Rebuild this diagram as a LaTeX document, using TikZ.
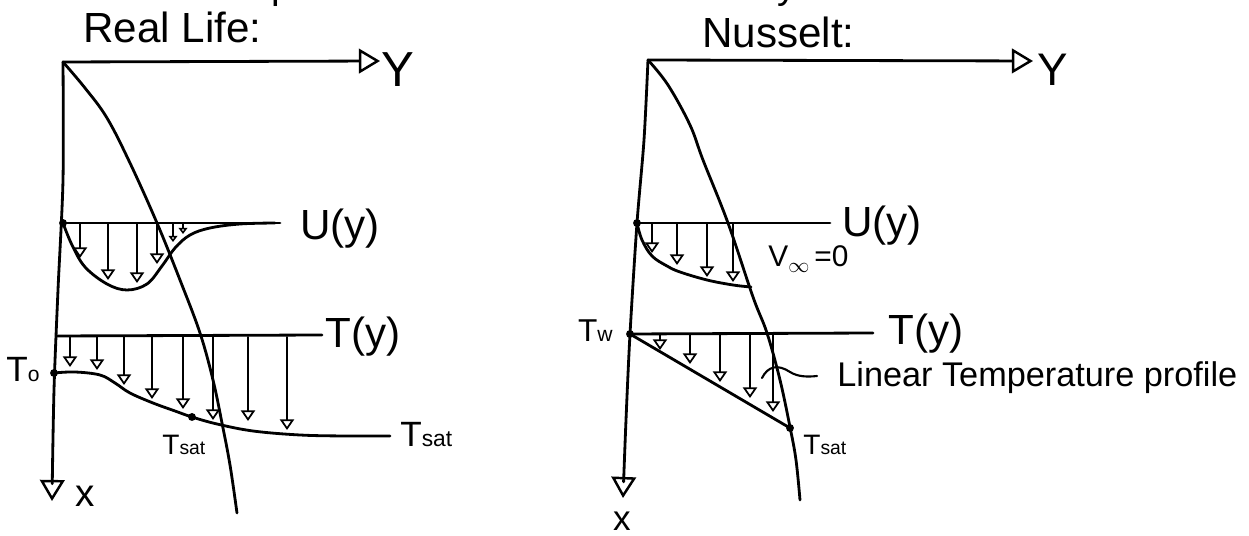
\documentclass[tikz,border=0pt]{standalone}
\usepackage{fontspec}
\setmainfont{Liberation Sans}
\usetikzlibrary{arrows.meta}
\begin{document}
\begin{tikzpicture}[x=0.02cm,y=-0.02cm,
  line cap=round, line join=round,
  axis/.style={line width=1.6pt},
  curve/.style={line width=1.6pt},
  bigtip/.style={-{Triangle[open,length=12pt,width=14pt,line width=1.4pt]}},
  vec/.style={line width=1pt,-{Triangle[open,length=6pt,width=8pt,line width=1pt]}},
  smallvec/.style={line width=0.9pt,-{Triangle[open,length=3.5pt,width=5pt,line width=0.9pt]}},
  dot/.style={circle,fill,inner sep=0pt,minimum size=4.5pt},
  lbl/.style={inner sep=0pt,anchor=base west},
  big/.style={font=\fontsize{24}{28}\selectfont},
  mid/.style={font=\fontsize{19.5}{22}\selectfont},
  tlbl/.style={inner sep=0pt,font=\fontsize{16}{18}\selectfont}]
\useasboundingbox (0,0) rectangle (1249,536);

% cut-off heading (only its lowest part lies inside the picture)
\node[lbl,font=\fontsize{22}{26}\selectfont] (head1) at (190,-1.5) {Comparison to Nusselt};
\node[lbl,font=\fontsize{22}{26}\selectfont] (head2) at (700,-1.5) {Analysis};

% ================= Real life =================
\node[lbl,big] (title1) at (83,43) {Real Life:};
\coordinate (O1) at (63,62);
\coordinate (Y1) at (380,61);
\coordinate (X1) at (52,501);
\draw[axis,bigtip] (O1) -- (Y1);
\node[inner sep=0pt,font=\fontsize{28}{30}\selectfont] (Y1l) at (398,70) {Y};
\draw[axis,bigtip] plot[smooth] coordinates {(O1) (63,180) (58,290) (54,390) (X1)};
\node[inner sep=0pt,font=\fontsize{22}{24}\selectfont] (X1l) at (85,496) {x};
% interface
\draw[curve] plot[smooth,tension=0.6] coordinates {(O1) (85,88) (107,118) (130,163) (157,223) (180,280) (200,333) (213,380) (222,423) (230,465) (237,513)};
% velocity
\coordinate (U1s) at (63,223);
\coordinate (U1e) at (280,223);
\draw[axis] (U1s) -- (U1e);
\node[dot] (U1d) at (U1s) {};
\node[lbl,big] (U1l) at (300,240) {U(y)};
\draw[curve] plot[smooth,tension=0.6] coordinates {(U1s) (72,245) (85,267) (107,284) (127,290) (147,284) (162,266) (175,248) (190,235) (210,228) (240,224) (275,223)};
\foreach \x/\t in {80/258,108/280,137/283,157/264}
  \draw[vec] (\x,224) -- (\x,\t);
\draw[smallvec] (173,224) -- (173,242);
\draw[smallvec] (183,224) -- (183,234);
% temperature
\coordinate (T1s) at (57,336);
\coordinate (T1e) at (322,335);
\draw[axis] (T1s) -- (T1e);
\node[lbl,big] (T1l) at (325,348) {T(y)};
\coordinate (T0) at (54,373);
\node[dot] (T0d) at (T0) {};
\node[inner sep=0pt,anchor=base east,font=\fontsize{20}{22}\selectfont] (T0l) at (40,382) {T{\fontsize{12}{12}\selectfont o}};
\draw[curve] plot[smooth,tension=0.6] coordinates {(T0) (75,372) (100,375) (115,383) (130,393) (153,403) (175,411) (192,417) (217,424) (253,431) (300,435) (345,436) (390,436)};
\node[dot] (Ts1d) at (192,417) {};
\node[tlbl,anchor=base west] (Ts1l) at (162,455) {T{\fontsize{11}{11}\selectfont sat}};
\node[lbl,font=\fontsize{20}{22}\selectfont] (Ts1r) at (400,447) {T{\fontsize{13}{13}\selectfont sat}};
\foreach \x/\t in {70/367,97/370,124/385,152/399,183/409,213/420,248/421,287/430}
  \draw[vec] (\x,337) -- (\x,\t);

% ================= Nusselt =================
\node[lbl,big] (title2) at (702,48) {Nusselt:};
\coordinate (O2) at (648,60);
\coordinate (Y2) at (1033,61);
\coordinate (X2) at (623,498);
\draw[axis,bigtip] (O2) -- (Y2);
\node[inner sep=0pt,font=\fontsize{26}{28}\selectfont] (Y2l) at (1053,70) {Y};
\draw[axis,bigtip] plot[smooth] coordinates {(O2) (644,140) (637,223) (630,334) (626,420) (X2)};
\node[inner sep=0pt,font=\fontsize{20}{22}\selectfont] (X2l) at (622,521) {x};
% interface
\draw[curve] plot[smooth,tension=0.6] coordinates {(O2) (668,85) (690,125) (703,160) (728,223) (753,297) (767,333) (780,380) (790,427) (796,460) (800,500)};
% velocity
\coordinate (U2s) at (637,223);
\coordinate (U2e) at (830,223);
\draw[axis] (U2s) -- (U2e);
\node[dot] (U2d) at (U2s) {};
\node[lbl,big] (U2l) at (842,237) {U(y)};
\node[lbl,font=\fontsize{17}{19}\selectfont] (Vinf) at (768,267) {V\raisebox{-3pt}{\fontsize{12}{12}\selectfont$\infty$}\,=0};
\draw[curve] plot[smooth,tension=0.6] coordinates {(U2s) (642,240) (652,256) (667,266) (680,272) (707,280) (733,285) (751,287)};
\foreach \x/\t in {652/253,677/265,707/277,733/282}
  \draw[vec] (\x,224) -- (\x,\t);
% temperature
\coordinate (Tw) at (630,334);
\coordinate (T2e) at (873,333);
\draw[axis] (Tw) -- (T2e);
\node[dot] (Twd) at (Tw) {};
\node[lbl,big] (T2l) at (888,345) {T(y)};
\node[inner sep=0pt,anchor=base east,font=\fontsize{18}{20}\selectfont] (Twl) at (613,342) {T{\fontsize{12}{12}\selectfont w}};
\coordinate (Ts2) at (790,428);
\draw[curve] (Tw) -- (Ts2);
\node[dot] (Ts2d) at (Ts2) {};
\node[tlbl,anchor=base west] (Ts2l) at (803,455) {T{\fontsize{11}{11}\selectfont sat}};
\foreach \x/\t in {660/350,690/364,720/382,750/398,773/412}
  \draw[vec] (\x,335) -- (\x,\t);
% annotation
\node[lbl,mid] (lin) at (837,387) {Linear Temperature profile};
\coordinate (ld) at (762,378);
\coordinate (le) at (817,376);
\draw[line width=1.2pt] (ld) .. controls (768,366) and (778,364) .. (790,372) .. controls (798,377) and (808,377) .. (le);
\end{tikzpicture}
\end{document}
